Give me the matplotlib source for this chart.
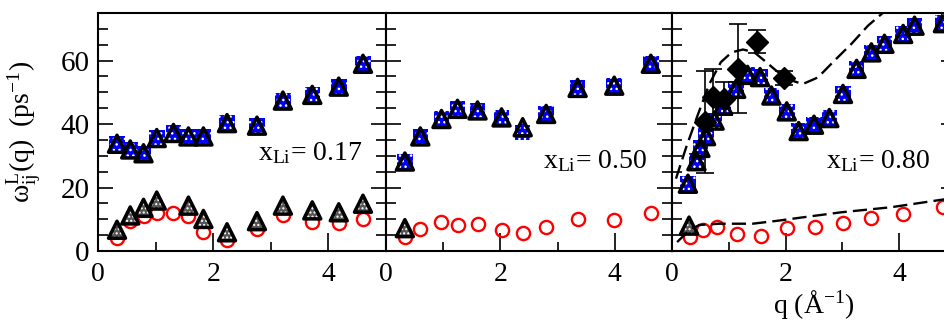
import matplotlib
matplotlib.use('Agg')
import matplotlib.pyplot as plt
from matplotlib.ticker import MultipleLocator

plt.rcParams['font.family'] = ['Liberation Serif', 'DejaVu Serif']
plt.rcParams['mathtext.fontset'] = 'custom'
plt.rcParams['mathtext.rm'] = 'Liberation Serif'
plt.rcParams['mathtext.it'] = 'Liberation Serif:italic'
plt.rcParams['mathtext.bf'] = 'Liberation Serif:bold'
plt.rcParams['hatch.linewidth'] = 1.0

# ---- x_Li = 0.17 ----
q_a = [0.33, 0.56, 0.79, 1.02, 1.31, 1.57, 1.83, 2.24, 2.76, 3.21, 3.72, 4.18, 4.60]
up_a = [33.8, 32.0, 30.8, 35.6, 37.2, 36.1, 36.1, 40.3, 39.5, 47.4, 49.2, 51.8, 59.0]
circ_a = [4.2, 9.4, 11.0, 12.0, 12.0, 11.0, 5.9, 3.6, 6.8, 11.2, 9.1, 8.9, 10.1]
q_gray_a = [0.33, 0.56, 0.79, 1.02, 1.57, 1.83, 2.24, 2.76, 3.21, 3.72, 4.18, 4.60]
gray_a = [6.7, 11.2, 13.6, 15.9, 14.3, 10.1, 5.9, 9.4, 14.3, 12.8, 12.2, 14.9]

# ---- x_Li = 0.50 ----
q_b = [0.33, 0.60, 0.97, 1.25, 1.60, 2.02, 2.39, 2.80, 3.35, 3.99, 4.63]
sq_b = [28.2, 36.1, 41.6, 44.8, 44.3, 42.1, 37.4, 43.2, 51.4, 52.1, 59.0]
tri_b = [28.2, 36.1, 41.6, 44.8, 44.3, 42.1, 39.0, 43.2, 51.4, 52.1, 59.0]
circ_b = [4.4, 7.0, 9.1, 8.3, 8.6, 6.5, 5.6, 7.5, 10.1, 9.9, 11.9]
q_gray_b = [0.33]
gray_b = [7.2]

# ---- x_Li = 0.80 ----
q_c = [0.28, 0.43, 0.50, 0.60, 0.75, 0.90, 1.13, 1.33, 1.55, 1.75, 2.02, 2.23,
       2.50, 2.77, 3.01, 3.25, 3.51, 3.74, 4.07, 4.27, 4.77]
up_c = [21.2, 28.3, 32.5, 36.2, 41.1, 45.8, 51.1, 55.5, 54.8, 49.0, 44.0, 37.8,
        39.8, 41.9, 49.5, 57.4, 62.6, 65.3, 68.4, 71.0, 71.8]
q_circ_c = [0.31, 0.55, 0.80, 1.15, 1.56, 2.02, 2.51, 3.01, 3.51, 4.07, 4.77]
circ_c = [4.4, 6.5, 7.5, 5.4, 4.7, 7.2, 7.5, 8.9, 10.3, 11.7, 14.0]
q_gray_c = [0.30]
gray_c = [8.0]

# experiment (diamonds with error bars)
q_exp = [0.58, 0.72, 0.92, 1.17, 1.50, 1.98]
v_exp = [40.6, 48.5, 48.0, 57.5, 66.0, 54.5]
err_exp = [16.0, 9.0, 5.2, 14.0, 3.5, 2.3]

# dashed curves
q_fit_hi = [0.07, 0.25, 0.45, 0.66, 0.86, 1.05, 1.25, 1.45, 1.66, 1.83, 2.03, 2.30,
            2.57, 2.86, 3.16, 3.45, 3.69, 3.90]
v_fit_hi = [22.8, 32.7, 42.7, 52.7, 59.5, 62.6, 63.5, 62.6, 59.5, 56.9, 54.2, 52.6,
            54.7, 60.0, 65.3, 71.0, 74.7, 78.0]
q_fit_lo = [0.09, 0.30, 0.48, 0.83, 1.42, 1.89, 2.30, 2.98, 3.86, 4.80]
v_fit_lo = [2.8, 6.5, 8.2, 8.6, 8.6, 9.6, 10.6, 12.2, 13.8, 16.3]

labels = ['0.17', '0.50', '0.80']
label_pos = [(2.78, 28.8), (2.74, 26.0), (2.72, 26.0)]

fig = plt.figure(figsize=(9.45, 3.22), dpi=100)
bottom, height = 0.2205, 0.7391
ax1 = fig.add_axes([98 / 945, bottom, 288 / 945, height])
ax2 = fig.add_axes([386 / 945, bottom, 286 / 945, height])
ax3 = fig.add_axes([672 / 945, bottom, 284 / 945, height])
axes = [ax1, ax2, ax3]

TRI = 150
SQ = 125


def draw_upper(ax, q, sq, tri):
    ax.scatter(q, sq, marker='s', s=SQ, facecolor='#0000ff', edgecolor='white',
               hatch='...', linewidths=0, zorder=3)
    ax.scatter(q, tri, marker='^', s=TRI, facecolor='#0000ff', edgecolor='white',
               hatch='...', linewidths=0, zorder=4)
    ax.scatter(q, tri, marker='^', s=TRI, facecolor='none', edgecolor='black',
               linewidths=2.5, zorder=4)


def draw_lower(ax, q, circ, qg, gray):
    ax.plot(q, circ, 'o', ms=9.5, mfc='none', mec='#ff0000', mew=1.7, zorder=3)
    ax.scatter(qg, gray, marker='^', s=TRI, facecolor='#555555', edgecolor='white',
               hatch='....', linewidths=0, zorder=4)
    ax.scatter(qg, gray, marker='^', s=TRI, facecolor='none', edgecolor='black',
               linewidths=2.5, zorder=4)


draw_upper(ax1, q_a, up_a, up_a)
draw_lower(ax1, q_a, circ_a, q_gray_a, gray_a)
draw_upper(ax2, q_b, sq_b, tri_b)
draw_lower(ax2, q_b, circ_b, q_gray_b, gray_b)
draw_upper(ax3, q_c, up_c, up_c)
draw_lower(ax3, q_circ_c, circ_c, q_gray_c, gray_c)

ax3.errorbar(q_exp, v_exp, yerr=err_exp, fmt='D', ms=11, color='black',
             ecolor='black', elinewidth=1.2, capsize=6.5, capthick=1.2, zorder=5)
ax3.plot(q_fit_hi, v_fit_hi, color='black', lw=1.7, dashes=(6, 2.6), zorder=6)
ax3.plot(q_fit_lo, v_fit_lo, color='black', lw=1.7, dashes=(6, 2.6), zorder=6)

for ax, lab, (tx, ty) in zip(axes, labels, label_pos):
    ax.set_xlim(0, 5)
    ax.set_ylim(0, 75)
    ax.xaxis.set_major_locator(MultipleLocator(2))
    ax.xaxis.set_minor_locator(MultipleLocator(1))
    ax.yaxis.set_major_locator(MultipleLocator(20))
    ax.yaxis.set_minor_locator(MultipleLocator(5))
    ax.tick_params(which='both', direction='in', left=True, right=True,
                   top=False, width=1.2)
    ax.tick_params(axis='x', which='major', length=13, labelsize=20, pad=8)
    ax.tick_params(axis='x', which='minor', length=6.5)
    ax.tick_params(axis='y', which='major', length=11, labelsize=21, pad=6)
    ax.tick_params(axis='y', which='minor', length=7)
    for sp in ax.spines.values():
        sp.set_linewidth(1.5)
    ax.text(tx, ty, r'x$_{\mathrm{Li}}$= ' + lab, fontsize=20, ha='left',
            va='baseline')

ax2.set_yticklabels([])
ax3.set_yticklabels([])

ax1.set_ylabel(r'$\mathrm{\omega}_{\mathrm{ij}}^{\mathrm{L}}\mathrm{(q)\ \ (ps^{-1})}$',
               fontsize=20)
ax1.yaxis.set_label_coords(-0.19, 0.5)
ax3.set_xlabel(r'q ($\mathrm{\AA}^{-1}$)', fontsize=20, labelpad=1)

fig.savefig('out.png', dpi=100)
